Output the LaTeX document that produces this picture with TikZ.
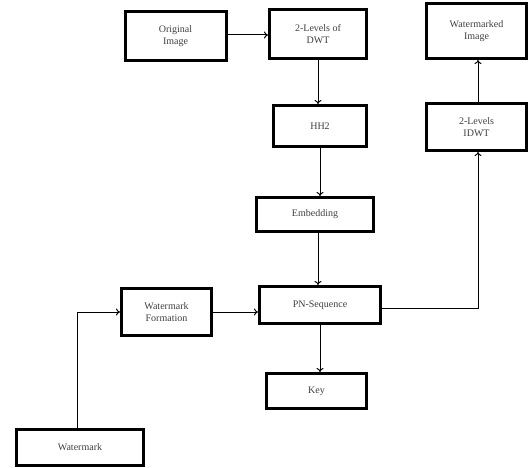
\documentclass[tikz,border=0pt]{standalone}
\usepackage{fontspec}
\setmainfont{Liberation Serif}
\usetikzlibrary{arrows.meta}
\begin{document}
\begin{tikzpicture}[x=1pt,y=-1pt,
  blk/.style={draw=black,line width=3pt,fill=white,inner sep=1pt,align=center,font=\fontsize{10}{12}\selectfont,text=black!75},
  conn/.style={draw=black,line width=1pt,-{To[length=4pt,width=7pt]}}]
\useasboundingbox (0,0) rectangle (530,468);
\node[blk,minimum width=101pt,minimum height=49pt] (orig) at (175.5,36) {Original\\Image};
\node[blk,minimum width=97pt,minimum height=49pt] (dwt) at (318,34) {2-Levels of\\DWT};
\node[blk,minimum width=93pt,minimum height=41pt] (hh) at (320,126) {HH2};
\node[blk,minimum width=117pt,minimum height=34pt] (emb) at (315,214.5) {Embedding};
\node[blk,minimum width=121pt,minimum height=37pt] (pn) at (320,305) {PN-Sequence};
\node[blk,minimum width=100pt,minimum height=35pt] (key) at (316.5,391) {Key};
\node[blk,minimum width=90pt,minimum height=47pt] (wmf) at (166.5,312) {Watermark\\Formation};
\node[blk,minimum width=127pt,minimum height=36pt] (wm) at (80,447.5) {Watermark};
\node[blk,minimum width=100pt,minimum height=55pt] (wmi) at (476.5,31) {Watermarked\\Image};
\node[blk,minimum width=100pt,minimum height=47pt] (idwt) at (476.5,127) {2-Levels\\IDWT};
\draw[conn] (orig.east |- 0,35) -- (dwt.west |- 0,35);
\draw[conn] (dwt.south) -- (dwt.south |- hh.north);
\draw[conn] (hh.south) -- (hh.south |- emb.north);
\draw[conn] (emb.south -| 318,0) -- (pn.north -| 318,0);
\draw[conn] (pn.south) -- (pn.south |- key.north);
\draw[conn] (wmf.east |- 0,312) -- (pn.west |- 0,312);
\draw[conn] (wm.north -| 77,0) |- (wmf.west |- 0,312);
\draw[conn] (pn.east |- 0,308) -| (idwt.south -| 478,0);
\draw[conn] (idwt.north -| 478,0) -- (wmi.south -| 478,0);
\end{tikzpicture}
\end{document}
